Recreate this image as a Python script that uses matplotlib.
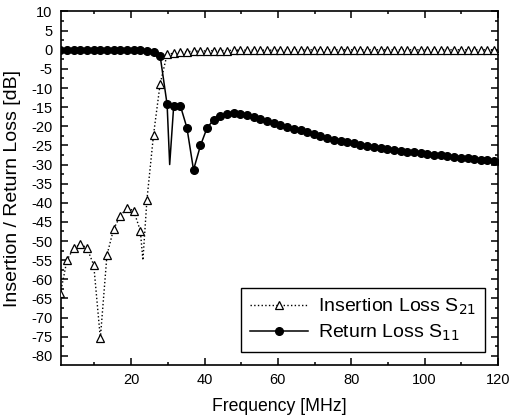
import matplotlib
matplotlib.use("Agg")
import matplotlib.pyplot as plt
from matplotlib.ticker import MultipleLocator
import numpy as np

# ── data ──────────────────────────────────────────────────────────────────────
FREQ = [0.7, 2.5, 4.3, 6.1, 7.9, 9.8, 11.6, 13.4, 15.2, 17.0, 18.9, 20.7, 22.5,
        24.3, 26.1, 27.9,
        29.8, 31.6, 33.4, 35.2, 37.0, 38.9, 40.7, 42.5, 44.3, 46.1, 48.0,
        49.8, 51.6, 53.4, 55.2, 57.1, 58.9, 60.7, 62.5, 64.3, 66.2,
        68.0, 69.8, 71.6, 73.4, 75.3, 77.1, 78.9, 80.7, 82.5, 84.4,
        86.2, 88.0, 89.8, 91.6, 93.5, 95.3, 97.1, 98.9, 100.7, 102.6,
        104.4, 106.2, 108.0, 109.8, 111.7, 113.5, 115.3, 117.1, 118.9, 120.7]

S21 = [-63.7, -55.0, -51.9, -50.9, -51.7, -56.3, -75.4, -53.7, -46.9, -43.5, -41.3, -42.1, -47.3,
       -39.2, -22.2, -8.9,
       -1.2, -0.9, -0.7, -0.5, -0.4, -0.3, -0.3, -0.2, -0.2, -0.2, -0.1,
       -0.1, -0.1, -0.1, -0.1, -0.1, -0.1, -0.1, -0.1, 0.0, 0.0,
       0.0, 0.0, 0.0, 0.0, 0.0, 0.0, 0.0, 0.0, 0.0, 0.0,
       0.0, 0.0, 0.0, 0.0, 0.0, 0.0, 0.0, 0.0, 0.0, 0.0,
       0.0, 0.0, 0.0, 0.0, 0.0, 0.0, 0.0, 0.0, 0.0, 0.0]

S11 = [0.0, 0.0, 0.0, 0.0, 0.0, 0.0, 0.0, 0.0, 0.0, 0.0, 0.0, 0.0, -0.1,
       -0.3, -0.7, -1.6,
       -14.3, -14.6, -14.6, -20.4, -31.4, -25.0, -20.4, -18.3, -17.2, -16.8, -16.5,
       -16.7, -17.1, -17.6, -18.1, -18.7, -19.2, -19.7, -20.2, -20.7, -21.1,
       -21.6, -22.1, -22.6, -23.0, -23.5, -23.9, -24.2, -24.5, -24.8, -25.1,
       -25.4, -25.6, -25.9, -26.1, -26.4, -26.6, -26.8, -27.0, -27.2, -27.4,
       -27.6, -27.8, -28.0, -28.2, -28.4, -28.6, -28.8, -28.9, -29.1, -29.3]

# sharp dips between markers (line only, no marker)
S21_DIP_F = [23.2]
S21_DIP = [-55.0]
S11_DIP_F = [30.5]
S11_DIP = [-30.0]

X_TICKS = [20, 40, 60, 80, 100, 120]
Y_TICKS = list(range(-80, 15, 5))


def merge(freq, vals, dip_f, dip_v):
    f = np.array(freq + dip_f)
    v = np.array(vals + dip_v)
    order = np.argsort(f)
    marked = np.isin(f[order], freq)
    return f[order], v[order], marked


plt.rcParams["font.family"] = ["Liberation Sans", "DejaVu Sans"]
plt.rcParams["axes.unicode_minus"] = False

fig = plt.figure(figsize=(5.12, 4.18), dpi=100)
ax = fig.add_axes([0.1186, 0.1268, 0.8541, 0.8457])

f21, v21, m21 = merge(FREQ, S21, S21_DIP_F, S21_DIP)
f11, v11, m11 = merge(FREQ, S11, S11_DIP_F, S11_DIP)

ax.plot(f21, v21, color="black", linestyle=":", linewidth=1.0,
        marker="^", markersize=5.5, markerfacecolor="white",
        markeredgecolor="black", markeredgewidth=0.9,
        markevery=list(m21), label="Insertion Loss S$_{21}$", zorder=3)
ax.plot(f11, v11, color="black", linestyle="-", linewidth=1.1,
        marker="o", markersize=5.5, markerfacecolor="black",
        markeredgecolor="black",
        markevery=list(m11), label="Return Loss S$_{11}$", zorder=2)

ax.set_xlim(0.8, 120)
ax.set_ylim(-82.4, 10)
ax.set_xticks(X_TICKS)
ax.set_yticks(Y_TICKS)
ax.xaxis.set_minor_locator(MultipleLocator(10))
ax.yaxis.set_minor_locator(MultipleLocator(2.5))
ax.tick_params(which="both", direction="in", top=True, right=True,
               labelsize=10.5, width=1.1)
ax.tick_params(which="major", length=5)
ax.tick_params(which="minor", length=2.5)
ax.tick_params(axis="y", pad=6)
ax.tick_params(axis="x", pad=6)
for sp in ax.spines.values():
    sp.set_linewidth(1.2)

ax.set_xlabel("Frequency [MHz]", fontsize=12.7, labelpad=8)
ax.set_ylabel("Insertion / Return Loss [dB]", fontsize=14, va="center")
ax.yaxis.set_label_coords(-0.111, 0.5)

leg = ax.legend(loc="lower right", fontsize=14, numpoints=1, handlelength=3.0,
                handletextpad=0.5, labelspacing=0.3, borderpad=0.45,
                borderaxespad=0.68, fancybox=False, framealpha=1,
                edgecolor="black")
leg.get_frame().set_linewidth(1.0)

fig.savefig("out.png", dpi=100)
